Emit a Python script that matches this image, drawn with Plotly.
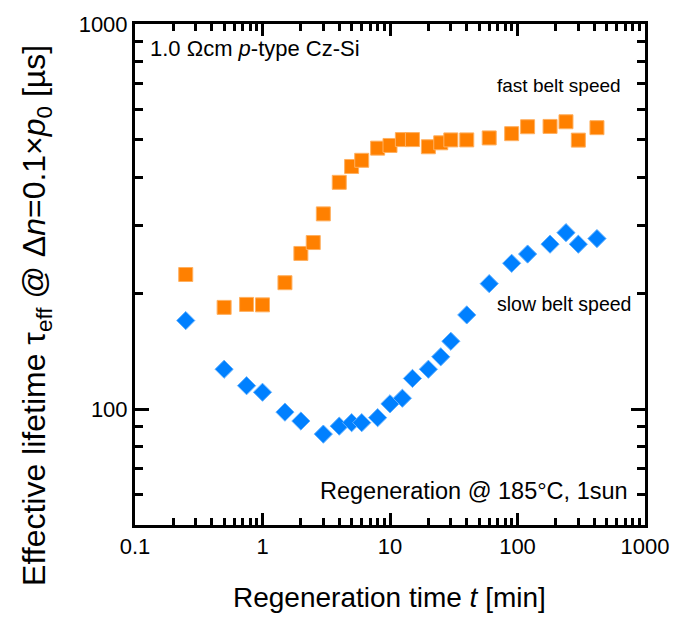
import plotly.graph_objects as go

# Data
t_fast = [0.25, 0.5, 0.75, 1, 1.5, 2, 2.5, 3, 4, 5, 6, 8, 10, 12.5, 15, 20, 25, 30, 40, 60, 90, 120, 180, 240, 300, 420]
tau_fast = [223.6, 183.7, 187, 186.5, 212.9, 253.6, 270.7, 321.3, 388, 426.6, 442.6, 476, 483.7, 501, 501,
            480, 491.5, 500, 500, 506, 519, 541, 542, 557.4, 499.4, 538]

t_slow = [0.25, 0.5, 0.75, 1, 1.5, 2, 3, 4, 5, 6, 8, 10, 12.5, 15, 20, 25, 30, 40, 60, 90, 120, 180, 240, 300, 420]
tau_slow = [169.8, 126.9, 115.0, 110.6, 98.2, 93.1, 86.1, 90.3, 92.2, 92.2, 95.0, 103.2, 106.7, 120.1, 126.9,
            136.7, 150, 175.6, 211.7, 239.1, 252.7, 268.1, 287.2, 268, 277.2]

x_major = [0.1, 1, 10, 100, 1000]
x_major_labels = ["0.1", "1", "10", "100", "1000"]
x_minor = [m * d for d in [0.1, 1, 10, 100] for m in range(2, 10)]
y_major = [100, 1000]
y_major_labels = ["100", "1000"]
y_minor = [50, 60, 70, 80, 90, 200, 300, 400, 500, 600, 700, 800, 900]

FONT = "Liberation Sans, Arial, sans-serif"
W, H = 686, 617
ML, MR, MT, MB = 135, 41, 17, 92
PW, PH = W - ML - MR, H - MT - MB


def px(x):
    return (x - ML) / PW


def py(y):
    return (H - MB - y) / PH


fig = go.Figure()
fig.add_trace(go.Scatter(
    x=t_fast, y=tau_fast, mode="markers", name="fast belt speed",
    marker=dict(symbol="square", size=14, color="#FF8000",
                line=dict(width=1, color="#FFB060")),
))
fig.add_trace(go.Scatter(
    x=t_slow, y=tau_slow, mode="markers", name="slow belt speed",
    marker=dict(symbol="diamond", size=14, color="#0080FF",
                line=dict(width=1, color="#60B0FF")),
))

axis_common = dict(
    showline=True, linecolor="black", linewidth=3, mirror="ticks",
    ticks="inside", tickcolor="black", tickwidth=2.5,
    showgrid=False, zeroline=False,
    tickfont=dict(family=FONT, size=22, color="black"),
)

fig.update_xaxes(
    type="log", range=[-1, 3],
    tickmode="array", tickvals=x_major, ticktext=x_major_labels, ticklen=12,
    minor=dict(tickmode="array", tickvals=x_minor, ticks="inside", ticklen=7,
               tickwidth=2.5, tickcolor="black", showgrid=False),
    **axis_common,
)
fig.update_yaxes(
    type="log", range=[1.69897, 3],
    tickmode="array", tickvals=y_major, ticktext=y_major_labels, ticklen=14,
    minor=dict(tickmode="array", tickvals=y_minor, ticks="inside", ticklen=8,
               tickwidth=2.5, tickcolor="black", showgrid=False),
    **axis_common,
)

# axis titles
fig.add_annotation(text="Regeneration time <i>t</i> [min]", xref="paper", yref="paper",
                   x=px(389), y=py(599), xanchor="center", yanchor="middle", showarrow=False,
                   font=dict(family=FONT, size=28, color="black"))
fig.add_annotation(text="Effective lifetime τ<sub>eff</sub> @ Δ<i>n</i>=0.1×<i>p</i><sub>0</sub> [µs]",
                   xref="paper", yref="paper", textangle=-90,
                   x=px(37), y=py(313), xanchor="center", yanchor="middle", showarrow=False,
                   font=dict(family=FONT, size=32, color="black"))

# in-plot labels
fig.add_annotation(text="1.0 Ωcm <i>p</i>-type Cz-Si", xref="paper", yref="paper",
                   x=px(148), y=py(42), xanchor="left", yanchor="middle", showarrow=False,
                   font=dict(family=FONT, size=22, color="black"))
fig.add_annotation(text="fast belt speed", xref="paper", yref="paper",
                   x=px(623), y=py(79), xanchor="right", yanchor="middle", showarrow=False,
                   font=dict(family=FONT, size=19, color="black"))
fig.add_annotation(text="slow belt speed", xref="paper", yref="paper",
                   x=px(633), y=py(301), xanchor="right", yanchor="middle", showarrow=False,
                   font=dict(family=FONT, size=19.5, color="black"))
fig.add_annotation(text="Regeneration @ 185°C, 1sun", xref="paper", yref="paper",
                   x=px(630), y=py(491), xanchor="right", yanchor="middle", showarrow=False,
                   font=dict(family=FONT, size=23.5, color="black"))

fig.update_layout(
    width=W, height=H,
    margin=dict(l=ML, r=MR, t=MT, b=MB),
    paper_bgcolor="white", plot_bgcolor="white",
    showlegend=False,
    font=dict(family=FONT, color="black"),
)

fig.write_html("out.html", config={"displayModeBar": False},
               post_script="document.body.style.margin='0';")
